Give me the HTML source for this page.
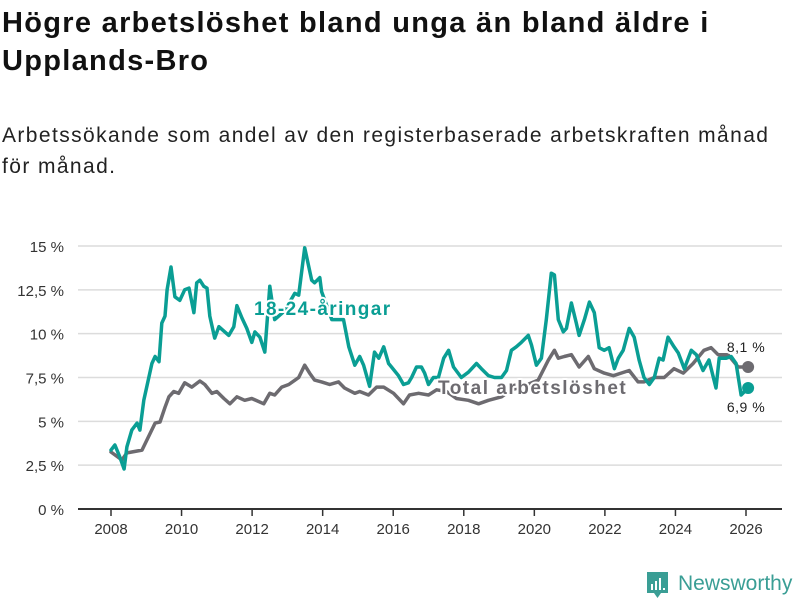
<!DOCTYPE html>
<html><head><meta charset="utf-8"><style>
body{margin:0;background:#fff;width:800px;height:600px;overflow:hidden;font-family:"Liberation Sans",sans-serif;}
#title{position:absolute;left:2px;top:4px;width:795px;margin:0;font-size:29px;line-height:38px;font-weight:bold;color:#111;letter-spacing:1.3px}
#sub{position:absolute;left:2px;top:120px;width:792px;margin:0;font-size:21px;line-height:31px;color:#222;letter-spacing:1.4px}
svg{position:absolute;left:0;top:0}
</style></head><body>
<h1 id="title">Högre arbetslöshet bland unga än bland äldre i Upplands-Bro</h1>
<p id="sub">Arbetssökande som andel av den registerbaserade arbetskraften månad för månad.</p>
<svg id="chart" width="800" height="600"></svg>
<script>
const yTicks=[0,2.5,5,7.5,10,12.5,15];
const yTickLabels=["0 %","2,5 %","5 %","7,5 %","10 %","12,5 %","15 %"];
const xTicks=[2008,2010,2012,2014,2016,2018,2020,2022,2024,2026];
const youthT=[0,0.11,0.25,0.37,0.45,0.59,0.74,0.82,0.93,1.16,1.25,1.36,1.44,1.53,1.59,1.70,1.81,1.95,2.09,2.21,2.35,2.43,2.52,2.63,2.72,2.80,2.94,3.06,3.34,3.48,3.57,3.71,3.85,3.99,4.08,4.22,4.36,4.50,4.64,4.92,5.21,5.32,5.49,5.69,5.77,5.92,5.97,6.26,6.59,6.74,6.91,7.05,7.16,7.33,7.47,7.59,7.73,7.87,7.95,8.15,8.29,8.43,8.52,8.66,8.80,8.89,9.00,9.14,9.28,9.43,9.57,9.71,9.93,10.13,10.36,10.50,10.70,10.87,11.07,11.21,11.35,11.49,11.63,11.83,11.92,12.06,12.20,12.34,12.48,12.57,12.68,12.82,12.91,13.05,13.19,13.27,13.42,13.56,13.70,13.84,13.98,14.12,14.27,14.38,14.52,14.69,14.83,14.97,15.11,15.26,15.40,15.54,15.65,15.79,15.96,16.08,16.25,16.45,16.59,16.78,16.95,17.15,17.24,17.44,17.58,17.72,17.86,18.06];
const youthV=[3.36,3.65,2.97,2.28,3.54,4.5,4.9,4.5,6.2,8.3,8.7,8.4,10.6,11.0,12.5,13.8,12.1,11.9,12.5,12.6,11.2,12.9,13.05,12.7,12.6,11.0,9.75,10.4,9.9,10.4,11.6,10.9,10.3,9.5,10.1,9.8,8.95,12.7,10.8,11.3,12.3,12.2,14.9,13.05,12.9,13.2,12.4,10.8,10.8,9.25,8.2,8.7,8.2,7.0,8.95,8.6,9.25,8.3,8.1,7.6,7.1,7.2,7.5,8.1,8.1,7.75,7.1,7.5,7.5,8.6,9.05,8.1,7.5,7.8,8.3,8.0,7.6,7.5,7.5,7.9,9.05,9.25,9.5,9.9,9.35,8.2,8.6,10.8,13.45,13.35,10.8,10.1,10.3,11.75,10.6,9.9,10.8,11.8,11.2,9.2,9.05,9.2,8.0,8.6,9.05,10.3,9.8,8.5,7.5,7.1,7.5,8.6,8.5,9.8,9.25,8.9,8.0,9.05,8.8,7.9,8.5,6.9,8.6,8.6,8.7,8.3,6.5,6.9];
const totalT=[0,0.31,0.45,0.59,0.88,1.25,1.39,1.53,1.64,1.78,1.92,2.09,2.29,2.52,2.66,2.86,3.00,3.20,3.37,3.57,3.79,3.99,4.33,4.50,4.64,4.84,5.04,5.32,5.49,5.63,5.77,5.97,6.20,6.45,6.62,6.91,7.05,7.30,7.53,7.73,8.01,8.29,8.46,8.72,9.00,9.23,9.51,9.79,10.13,10.42,10.70,11.07,11.35,11.63,12.11,12.40,12.57,12.68,12.85,13.05,13.27,13.53,13.70,13.98,14.24,14.46,14.69,14.94,15.11,15.40,15.68,15.96,16.22,16.50,16.81,17.01,17.21,17.49,17.78,18.06];
const totalV=[3.25,2.8,3.2,3.25,3.36,4.9,4.96,5.8,6.4,6.7,6.6,7.2,6.95,7.3,7.1,6.6,6.7,6.3,6.0,6.4,6.2,6.3,6.0,6.6,6.5,6.95,7.1,7.5,8.2,7.75,7.35,7.25,7.1,7.25,6.9,6.6,6.7,6.5,6.95,6.95,6.6,6.0,6.5,6.6,6.5,6.8,6.7,6.3,6.2,6.0,6.2,6.4,6.8,6.95,7.35,8.5,9.05,8.6,8.7,8.8,8.1,8.7,8.0,7.75,7.6,7.75,7.9,7.25,7.25,7.5,7.5,8.0,7.75,8.3,9.05,9.2,8.8,8.8,8.1,8.1];
const youthLast="6,9 %", totalLast="8,1 %";

const svg=document.getElementById('chart');
const NS="http://www.w3.org/2000/svg";
const X0=78,X1=782,Y0=509,Y1=246;
const xs=y=>111+(y-2008)*(746-111)/18;
const ys=v=>Y0-v*(Y0-Y1)/15;
function mk(tag,attrs,parent){const e=document.createElementNS(NS,tag);for(const k in attrs)e.setAttribute(k,attrs[k]);(parent||svg).appendChild(e);return e;}
yTicks.forEach((t,i)=>{
  const l=mk('line',{x1:X0,x2:X1,y1:ys(t),y2:ys(t),stroke:i==0?'#333':'#dcdcdc','stroke-width':i==0?2:1.5});
  
  
  const tx=mk('text',{x:64,y:ys(t)+6,'text-anchor':'end','font-size':15,fill:'#333'});
  tx.textContent=yTickLabels[i];
  
  
});
xTicks.forEach(t=>{
  const l=mk('line',{x1:xs(t),x2:xs(t),y1:Y0,y2:Y0+7,stroke:'#333','stroke-width':1.5});
  
  
  const tx=mk('text',{x:xs(t),y:534,'text-anchor':'middle','font-size':15,fill:'#333'});
  tx.textContent=t;
  
  
});
function series(T,V,color,name){
  const d=T.map((t,i)=>(i?'L':'M')+xs(2008+t).toFixed(1)+','+ys(V[i]).toFixed(1)).join('');
  const p=mk('path',{d:d,fill:'none',stroke:color,'stroke-width':3.5,'stroke-linejoin':'round','stroke-linecap':'round'});
  
  
  const n=T.length-1;
  const c=mk('circle',{cx:xs(2008+T[n]),cy:ys(V[n]),r:6,fill:color});
  
  
}
series(totalT,totalV,'#6d6b70','total');
series(youthT,youthV,'#0a9e94','youth');
function label(x,y,txt,color,size,weight,name,anchor,ls){
  const t=mk('text',{x:x,y:y,'font-size':size,'font-weight':weight,fill:color,stroke:'#fff','stroke-width':4,'paint-order':'stroke','stroke-linejoin':'round','text-anchor':anchor||'start','letter-spacing':ls||0});
  t.textContent=txt;
  
  
}
label(254,315,'18-24-åringar','#0a9e94',19,'bold','youth-series-label','start',1.4);
label(438,394,'Total arbetslöshet','#6d6b70',19,'bold','total-series-label','start',1.5);
label(746,352,totalLast,'#222',14,'normal','total-end-value','middle',0.5);
label(746,412,youthLast,'#222',14,'normal','youth-end-value','middle',0.5);
const g=mk('g',{});


mk('path',{d:'M647,572h21v21h-7l-3.5,5l-3.5,-5h-7z',fill:'#3a9e95'},g);
mk('rect',{x:651,y:584,width:2,height:6,fill:'#fff'},g);
mk('rect',{x:655,y:581,width:2,height:9,fill:'#fff'},g);
mk('rect',{x:659,y:578,width:2,height:12,fill:'#fff'},g);
mk('rect',{x:663,y:588,width:2,height:2,fill:'#fff'},g);
const lt=mk('text',{x:678,y:590,'font-size':21,fill:'#3a9e95'},g);
lt.textContent='Newsworthy';
</script>
</body></html>
